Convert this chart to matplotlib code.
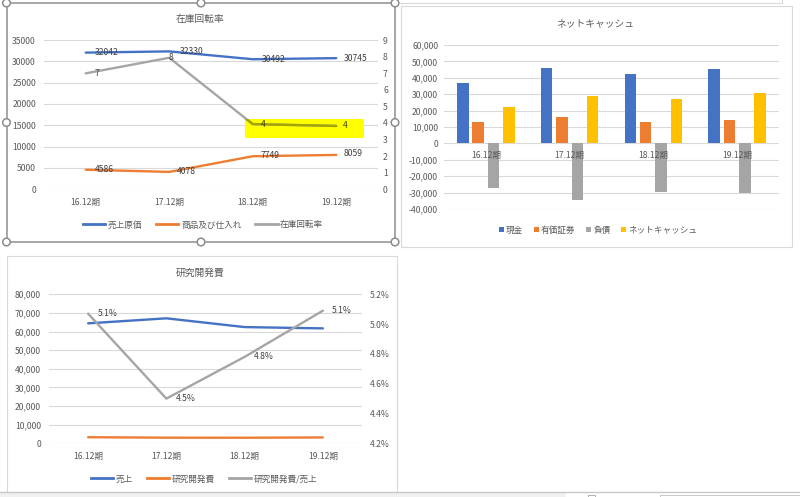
import matplotlib
matplotlib.use('Agg')
import matplotlib.pyplot as plt
from matplotlib.patches import Rectangle, Circle, Patch
from matplotlib.lines import Line2D
from matplotlib.ticker import FuncFormatter, FixedLocator

plt.rcParams['font.family'] = ['Noto Sans CJK JP', 'DejaVu Sans']

# ---------------- data ----------------
periods = ['16.12期', '17.12期', '18.12期', '19.12期']

# chart 1: 在庫回転率
cost_of_sales = [32042, 32330, 30492, 30745]
inventory = [4586, 4078, 7749, 8059]
turnover = [6.99, 7.93, 3.93, 3.82]
turnover_labels = ['7', '8', '4', '4']

# chart 2: ネットキャッシュ
cash = [36600, 46100, 42300, 45300]
securities = [12800, 16300, 13200, 14200]
liabilities = [-27200, -34300, -29700, -30300]
net_cash = [22400, 29100, 27000, 30500]

# chart 3: 研究開発費
sales = [64400, 67100, 62400, 61700]
rnd = [3265, 3020, 2985, 3143]
rnd_ratio = [0.0507, 0.0450, 0.0478, 0.0509]

# ---------------- styles ----------------
BLUE = '#4472C4'
ORANGE = '#ED7D31'
GRAY = '#A5A5A5'
YELLOW = '#FFC000'
GRID = '#D9D9D9'
TICK = '#595959'
LBL = '#404040'
FS = 6.2
LW = 1.7

W, H = 800, 497
fig = plt.figure(figsize=(8, 4.97), dpi=100)
fig.patch.set_facecolor('white')

# overlay in pixel coordinates
ov = fig.add_axes([0, 0, 1, 1], zorder=5)
ov.set_xlim(0, W)
ov.set_ylim(H, 0)
ov.axis('off')
ov.patch.set_alpha(0)


def ax_px(x0, y0, x1, y1):
    a = fig.add_axes([x0 / W, 1 - y1 / H, (x1 - x0) / W, (y1 - y0) / H])
    a.patch.set_alpha(0)
    return a


def style(ax, ypad, xpad=6.0):
    for s in ax.spines.values():
        s.set_visible(False)
    ax.tick_params(axis='both', length=0, labelsize=FS, colors=TICK)
    ax.tick_params(axis='y', pad=ypad)
    ax.tick_params(axis='x', pad=xpad)
    ax.yaxis.grid(True, color=GRID, lw=0.8)
    ax.set_axisbelow(True)


x = list(range(len(periods)))

# ================= chart 1 =================
ax1 = ax_px(44, 40, 378, 189.3)
style(ax1, ypad=5.8)
ax1.set_xlim(-0.5, 3.5)
ax1.set_ylim(0, 35000)
ax1.yaxis.set_major_locator(FixedLocator(range(0, 35001, 5000)))
ax1.yaxis.set_major_formatter(FuncFormatter(lambda v, p: f"{int(v)}"))
ax1.set_xticks(x)
ax1.set_xticklabels(periods)
ax1.plot(x, cost_of_sales, color=BLUE, lw=LW, solid_capstyle='round', solid_joinstyle='round', zorder=3)
ax1.plot(x, inventory, color=ORANGE, lw=LW, solid_capstyle='round', solid_joinstyle='round', zorder=3)

ax1b = ax1.twinx()
ax1b.patch.set_alpha(0)
for s in ax1b.spines.values():
    s.set_visible(False)
ax1b.set_ylim(0, 9)
ax1b.set_yticks(range(0, 10))
ax1b.tick_params(axis='y', length=0, labelsize=FS, colors=TICK, pad=3.6)
ln_t, = ax1b.plot(x, turnover, color=GRAY, lw=LW, solid_capstyle='round', solid_joinstyle='round', zorder=3)

# yellow highlight (hand-drawn marker on the screenshot)
hl = Rectangle((245, 118.5), 119, 19, transform=ov.transData, facecolor='#FFFF00',
               edgecolor='none', zorder=0.7, clip_on=False)
ax1.add_patch(hl)
ln_o, = ax1b.plot(x, turnover, color='#A5A500', lw=LW, solid_capstyle='round', zorder=3.1)
clip_rect = Rectangle((245, 118.5), 119, 19, transform=ov.transData)
ln_o.set_clip_path(clip_rect)

cost_dx = [9, 11, 9, 8]
for i, v in enumerate(cost_of_sales):
    ax1.annotate(str(v), (i, v), xytext=(cost_dx[i], 0), textcoords='offset pixels',
                 ha='left', va='center', fontsize=FS, color=LBL, zorder=4)
inv_dx = [9, 8, 8, 7]
inv_dy = [0, 0, 1, 1]
for i, v in enumerate(inventory):
    ax1.annotate(str(v), (i, v), xytext=(inv_dx[i], inv_dy[i]), textcoords='offset pixels',
                 ha='left', va='center', fontsize=FS, color=LBL, zorder=4)
t_dx = [9, -1, 8, 7]
t_col = [LBL, LBL, '#404000', '#404000']
for i, v in enumerate(turnover):
    ax1b.annotate(turnover_labels[i], (i, v), xytext=(t_dx[i], 0), textcoords='offset pixels',
                  ha='left', va='center', fontsize=FS, color=t_col[i], zorder=4)

fig.text(200 / W, 1 - 19 / H, '在庫回転率', ha='center', va='center', fontsize=7, color=TICK)
h1 = [Line2D([], [], color=c, lw=2) for c in (BLUE, ORANGE, GRAY)]
fig.legend(h1, ['売上原価', '商品及び仕入れ', '在庫回転率'], loc='center',
           bbox_to_anchor=(203 / W, 1 - 225 / H), ncol=3, frameon=False, fontsize=FS,
           handlelength=2.6, handletextpad=0.3, columnspacing=1.6, labelcolor=TICK)

# ================= chart 2 =================
ax2 = ax_px(444, 45, 779, 209)
style(ax2, ypad=4.2, xpad=5.5)
ax2.xaxis.set_zorder(4)
ax2.set_xlim(-0.5, 3.5)
ax2.set_ylim(-40000, 60000)
ax2.yaxis.set_major_locator(FixedLocator(range(-40000, 60001, 10000)))
ax2.yaxis.set_major_formatter(FuncFormatter(lambda v, p: f"{int(v):,}"))
ax2.spines['bottom'].set_position(('data', 0))
ax2.set_xticks(x)
ax2.set_xticklabels(periods)
pitch = 0.183
bw = 0.138
series2 = [cash, securities, liabilities, net_cash]
cols2 = [BLUE, ORANGE, GRAY, YELLOW]
for k, (vals, c) in enumerate(zip(series2, cols2)):
    ax2.bar([i + (k - 1.5) * pitch for i in x], vals, width=bw, color=c, zorder=2)
fig.text(595 / W, 1 - 23 / H, 'ネットキャッシュ', ha='center', va='center', fontsize=7, color=TICK)
h2 = [Patch(facecolor=c) for c in cols2]
fig.legend(h2, ['現金', '有価証券', '負債', 'ネットキャッシュ'], loc='center',
           bbox_to_anchor=(598 / W, 1 - 230 / H), ncol=4, frameon=False, fontsize=FS,
           handlelength=0.55, handleheight=0.55, handletextpad=0.3, columnspacing=1.2,
           labelcolor=TICK)

# ================= chart 3 =================
ax3 = ax_px(49, 294.3, 362, 443.3)
style(ax3, ypad=5.8)
ax3.set_xlim(-0.5, 3.5)
ax3.set_ylim(0, 80000)
ax3.yaxis.set_major_locator(FixedLocator(range(0, 80001, 10000)))
ax3.yaxis.set_major_formatter(FuncFormatter(lambda v, p: f"{int(v):,}"))
ax3.set_xticks(x)
ax3.set_xticklabels(periods)
ax3.plot(x, sales, color=BLUE, lw=LW, solid_capstyle='round', solid_joinstyle='round', zorder=3)
ax3.plot(x, rnd, color=ORANGE, lw=LW, solid_capstyle='round', solid_joinstyle='round', zorder=3)
ax3b = ax3.twinx()
ax3b.patch.set_alpha(0)
for s in ax3b.spines.values():
    s.set_visible(False)
ax3b.set_ylim(0.042, 0.052)
ax3b.yaxis.set_major_locator(FixedLocator([0.042, 0.044, 0.046, 0.048, 0.050, 0.052]))
ax3b.yaxis.set_major_formatter(FuncFormatter(lambda v, p: f"{v * 100:.1f}%"))
ax3b.tick_params(axis='y', length=0, labelsize=FS, colors=TICK, pad=5.8)
ax3b.plot(x, rnd_ratio, color=GRAY, lw=LW, solid_capstyle='round', solid_joinstyle='round', zorder=3)
r_dx = [10, 9, 9, 9]
for i, v in enumerate(rnd_ratio):
    ax3b.annotate(f"{v * 100:.1f}%", (i, v), xytext=(r_dx[i], 0), textcoords='offset pixels',
                  ha='left', va='center', fontsize=FS, color=LBL, zorder=4)
fig.text(200 / W, 1 - 273 / H, '研究開発費', ha='center', va='center', fontsize=7, color=TICK)
h3 = [Line2D([], [], color=c, lw=2) for c in (BLUE, ORANGE, GRAY)]
fig.legend(h3, ['売上', '研究開発費', '研究開発費/売上'], loc='center',
           bbox_to_anchor=(204 / W, 1 - 479 / H), ncol=3, frameon=False, fontsize=FS,
           handlelength=2.6, handletextpad=0.3, columnspacing=1.6, labelcolor=TICK)

# ================= frames / sheet chrome =================
# chart behind chart 2
ov.plot([400, 782, 782], [3, 3, 0], color=GRID, lw=0.8)
# chart 2 frame
ov.add_patch(Rectangle((401, 6), 391, 241, fill=False, edgecolor=GRID, lw=0.8))
# chart 3 frame
ov.plot([7, 7, 397, 397], [492, 256, 256, 492], color=GRID, lw=0.8)
# selected chart 1 frame
ov.add_patch(Rectangle((6.5, 3), 388.5, 239, fill=False, edgecolor='#A0A0A0', lw=1.3))
for (hx, hy) in [(6.5, 3), (201, 3), (395, 3), (6.5, 122.5), (395, 122.5),
                 (6.5, 242), (201, 242), (395, 242)]:
    ov.add_patch(Circle((hx, hy), 3.8, facecolor='white', edgecolor='#8C8C8C', lw=1.1, zorder=6))
# bottom status band
ov.add_patch(Rectangle((0, 492), 566, 6, facecolor='#F0F0F0', edgecolor='none'))
ov.plot([0, 800], [492, 492], color='#C8C8C8', lw=1.0)
ov.add_patch(Rectangle((588, 494.5), 7, 4, fill=False, edgecolor='#B0B0B0', lw=0.7))
ov.add_patch(Rectangle((660, 494.5), 145, 4, fill=False, edgecolor='#C8C8C8', lw=0.7))

fig.savefig('out.png', dpi=100, facecolor='white')
